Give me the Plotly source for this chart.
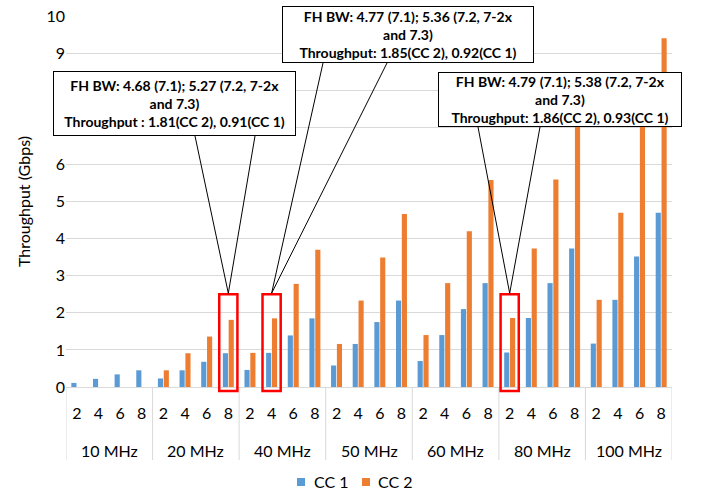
import plotly.graph_objects as go

groups = ["10 MHz", "20 MHz", "40 MHz", "50 MHz", "60 MHz", "80 MHz", "100 MHz"]
layers = ["2", "4", "6", "8"]
series_names = ["CC 1", "CC 2"]
series_colors = ["#5B9BD5", "#ED7D31"]

cc1 = [0.11, 0.22, 0.34, 0.45,
       0.23, 0.45, 0.68, 0.91,
       0.46, 0.92, 1.39, 1.85,
       0.58, 1.16, 1.75, 2.33,
       0.70, 1.40, 2.10, 2.80,
       0.93, 1.86, 2.80, 3.73,
       1.17, 2.35, 3.52, 4.70]
cc2 = [None, None, None, None,
       0.45, 0.91, 1.36, 1.81,
       0.92, 1.85, 2.78, 3.70,
       1.16, 2.33, 3.49, 4.66,
       1.40, 2.80, 4.20, 5.58,
       1.86, 3.73, 5.59, 7.46,
       2.35, 4.70, 7.04, 9.40]

# highlighted categories: (group, layer)
highlights = [("20 MHz", "8"), ("40 MHz", "4"), ("80 MHz", "2")]
callouts = [
    "FH BW: 4.68 (7.1); 5.27 (7.2, 7-2x<br>and 7.3)<br>Throughput : 1.81(CC 2), 0.91(CC 1)",
    "FH BW: 4.77 (7.1); 5.36 (7.2, 7-2x<br>and 7.3)<br>Throughput: 1.85(CC 2), 0.92(CC 1)",
    "FH BW: 4.79 (7.1); 5.38 (7.2, 7-2x<br>and 7.3)<br>Throughput: 1.86(CC 2), 0.93(CC 1)",
]

xg = [g for g in groups for _ in layers]
xl = [l for _ in groups for l in layers]
N = len(xg)
xi = list(range(N))
NL = len(layers)

FONT = "Lato, 'Open Sans', sans-serif"
W, H = 702, 494
L, R, T, B = 66, 30, 16, 107
PW, PH = W - L - R, H - T - B
YMAX = 10

def px_x(px):
    return (px - L) / PW

def px_y(py):
    return (H - B - py) / PH

fig = go.Figure()
for name, color, vals in zip(series_names, series_colors, [cc1, cc2]):
    fig.add_trace(go.Bar(x=xi, y=vals, name=name, marker_color=color,
                         marker_line_width=0, showlegend=False))

shapes = []
annotations = []

# group dividers and group labels
for gi, g in enumerate(groups):
    shapes.append(dict(type="line", xref="x", yref="paper",
                       x0=gi * NL - 0.5, x1=gi * NL - 0.5, y0=0, y1=px_y(460),
                       line=dict(color="#D9D9D9", width=1), layer="below"))
    annotations.append(dict(xref="x", yref="paper", x=gi * NL + (NL - 1) / 2, y=px_y(451),
                            text=g, showarrow=False, xanchor="center", yanchor="middle",
                            font=dict(family=FONT, size=16, color="black")))
shapes.append(dict(type="line", xref="x", yref="paper",
                   x0=N - 0.5, x1=N - 0.5, y0=0, y1=px_y(460),
                   line=dict(color="#D9D9D9", width=1), layer="below"))

# custom legend
leg_items = [(297, 312), (362, 376)]
for (sx, tx), name, color in zip(leg_items, series_names, series_colors):
    shapes.append(dict(type="rect", xref="paper", yref="paper",
                       x0=px_x(sx), x1=px_x(sx + 8), y0=px_y(486), y1=px_y(478),
                       fillcolor=color, line=dict(width=0)))
    annotations.append(dict(xref="paper", yref="paper", x=px_x(tx), y=px_y(482),
                            text=name, showarrow=False, xanchor="left", yanchor="middle",
                            font=dict(family=FONT, size=16, color="black")))

# callout boxes, pixels (x0, x1, y0, y1)
boxes = [(53, 296, 71, 136), (282, 534, 6, 63), (438, 682, 72, 127)]
legs = [(195, 255), (323, 387), (478, 540)]
rect_top_val = 2.5
for (g, l), txt, (bx0, bx1, by0, by1), (lx0, lx1) in zip(highlights, callouts, boxes, legs):
    idx = [i for i in range(N) if xg[i] == g and xl[i] == l][0]
    cx = (idx + 0.5) / N
    half = 0.42 / N
    shapes.append(dict(type="rect", xref="paper", yref="paper",
                       x0=cx - half, x1=cx + half, y0=-4 / PH, y1=rect_top_val / YMAX,
                       line=dict(color="#FF0000", width=2.5), fillcolor="rgba(0,0,0,0)",
                       layer="above"))
    ay = rect_top_val / YMAX + 1.0 / PH
    shapes.append(dict(type="path", xref="paper", yref="paper",
                       path=f"M {px_x(lx0)},{px_y(by1)} L {cx},{ay} L {px_x(lx1)},{px_y(by1)}",
                       line=dict(color="black", width=1), layer="above"))
    annotations.append(dict(xref="paper", yref="paper",
                            x=px_x((bx0 + bx1) / 2), y=px_y((by0 + by1) / 2),
                            xanchor="center", yanchor="middle",
                            text="<b>" + txt + "</b>", showarrow=False,
                            width=bx1 - bx0 - 2, height=by1 - by0 - 2,
                            align="center", valign="middle",
                            bgcolor="white", bordercolor="black", borderwidth=1,
                            borderpad=0,
                            font=dict(family=FONT, size=14, color="black")))

fig.update_layout(
    width=W, height=H,
    margin=dict(l=L, r=R, t=T, b=B, autoexpand=False),
    paper_bgcolor="white", plot_bgcolor="white",
    barmode="group", bargap=0.46, bargroupgap=0.12,
    font=dict(family=FONT, size=16, color="#000000"),
    shapes=shapes, annotations=annotations,
    showlegend=False,
    xaxis=dict(range=[-0.5, N - 0.5], tickmode="array", tickvals=xi, ticktext=xl,
               showline=True, linecolor="#D9D9D9", showgrid=False, zeroline=False,
               tickfont=dict(size=16), ticks="outside", ticklen=12,
               tickcolor="rgba(0,0,0,0)"),
    yaxis=dict(range=[0, YMAX], dtick=1, showgrid=True, gridcolor="#D9D9D9",
               zeroline=False, showline=False, tickfont=dict(size=16),
               title=dict(text="Throughput (Gbps)", font=dict(size=16), standoff=11)),
)

fig.write_html("out.html")
